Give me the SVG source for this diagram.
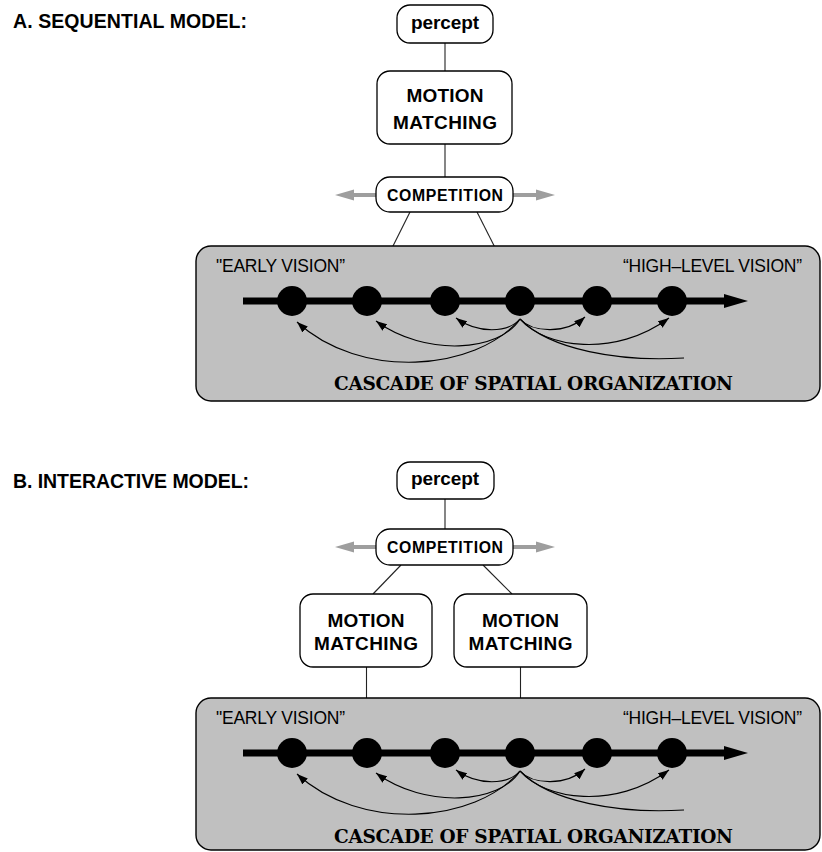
<svg xmlns="http://www.w3.org/2000/svg" width="822" height="852" viewBox="0 0 822 852">
<defs>
<style>
.title{font-family:"Liberation Sans",Arial,sans-serif;font-weight:bold;font-size:19.5px;fill:#000}
.box{fill:#fff;stroke:#000;stroke-width:1.3}
.lbl{font-family:"Liberation Sans",Arial,sans-serif;font-weight:bold;fill:#000;text-anchor:middle}
.big{font-size:19px}
.comp{font-size:15.8px}
.panel{fill:#c0c0c0;stroke:#000;stroke-width:1.4}
.vis{font-family:"Liberation Sans",Arial,sans-serif;font-size:17.5px;fill:#000}
.casc{font-family:"DejaVu Serif","Liberation Serif",serif;font-weight:bold;font-size:18.5px;fill:#000}
.conn{stroke:#222;stroke-width:1.1;fill:none}
.curve{stroke:#000;stroke-width:1.1;fill:none}
.garrow{fill:#9e9e9e}
.node{fill:#000}
.axis{stroke:#000;stroke-width:7}
</style>
<marker id="ah" markerUnits="userSpaceOnUse" markerWidth="12" markerHeight="8" refX="11" refY="4" orient="auto">
<path d="M0,0 L11,4 L0,8 z" fill="#000"/>
</marker>
</defs>

<!-- ===== Panel A ===== -->
<text class="title" x="13" y="28" textLength="234">A. SEQUENTIAL MODEL:</text>

<g id="connectorsA">
<line class="conn" x1="445" y1="43" x2="445" y2="71"/>
<line class="conn" x1="445" y1="144" x2="445" y2="177"/>
<line class="conn" x1="410" y1="212" x2="373" y2="286"/>
<line class="conn" x1="477" y1="212" x2="515" y2="287"/>
</g>

<g id="perceptA">
<rect class="box" x="397" y="5" width="96" height="38" rx="13"/>
<text class="lbl big" x="445" y="29" textLength="68">percept</text>
</g>

<g id="motionA">
<rect class="box" x="377" y="71" width="135" height="73" rx="13"/>
<text class="lbl big" x="445" y="102" textLength="77">MOTION</text>
<text class="lbl big" x="445" y="129" textLength="104">MATCHING</text>
</g>

<g id="competitionA">
<path class="garrow" d="M335,195 L354,189.5 L354,193 L376,193 L376,197 L354,197 L354,200.5 Z"/>
<path class="garrow" d="M555,195 L536,189.5 L536,193 L513,193 L513,197 L536,197 L536,200.5 Z"/>
<rect class="box" x="376" y="177" width="137" height="35" rx="14"/>
<text class="lbl comp" x="445" y="201" textLength="116">COMPETITION</text>
</g>

<g id="cascadeA">
<rect class="panel" x="196" y="246" width="624" height="155" rx="15"/>
<text class="vis" x="216" y="272" textLength="129">"EARLY VISION”</text>
<text class="vis" x="623" y="272" textLength="179">“HIGH–LEVEL VISION”</text>
<line class="axis" x1="243" y1="301" x2="728" y2="301"/>
<polygon points="724,294 748,301 724,308" fill="#000"/>
<circle class="node" cx="292" cy="301" r="15"/>
<circle class="node" cx="367" cy="301" r="15"/>
<circle class="node" cx="445" cy="301" r="15"/>
<circle class="node" cx="520" cy="301" r="15"/>
<circle class="node" cx="597" cy="301" r="15"/>
<circle class="node" cx="672" cy="301" r="15"/>
<g id="feedbackA">
<path class="curve" marker-end="url(#ah)" d="M520,319 C508,333 478,334 456,318"/>
<path class="curve" marker-end="url(#ah)" d="M520,319 C533,333 566,334 585,317"/>
<path class="curve" marker-end="url(#ah)" d="M520,319 C500,352 425,357 376,321"/>
<path class="curve" marker-end="url(#ah)" d="M520,319 C475,372 360,380 297,322"/>
<path class="curve" marker-end="url(#ah)" d="M520,319 C545,348 615,358 669,318"/>
<path class="curve" d="M520,319 C550,350 620,362 684,358"/>
</g>
<text class="casc" x="334" y="390" textLength="399">CASCADE OF SPATIAL ORGANIZATION</text>
</g>

<!-- ===== Panel B ===== -->
<text class="title" x="13" y="488" textLength="236">B. INTERACTIVE MODEL:</text>

<g id="connectorsB">
<line class="conn" x1="445" y1="499" x2="445" y2="529"/>
<line class="conn" x1="401" y1="565" x2="373" y2="594"/>
<line class="conn" x1="483" y1="565" x2="512" y2="594"/>
<line class="conn" x1="366.5" y1="667" x2="366.5" y2="739"/>
<line class="conn" x1="520.5" y1="667" x2="520.5" y2="739"/>
</g>

<g id="perceptB">
<rect class="box" x="397" y="462" width="97" height="37" rx="13"/>
<text class="lbl big" x="445" y="485" textLength="68">percept</text>
</g>

<g id="competitionB">
<path class="garrow" d="M335,547 L354,541.5 L354,545 L376,545 L376,549 L354,549 L354,552.5 Z"/>
<path class="garrow" d="M555,547 L536,541.5 L536,545 L513,545 L513,549 L536,549 L536,552.5 Z"/>
<rect class="box" x="376" y="529" width="137" height="36" rx="14"/>
<text class="lbl comp" x="445" y="553" textLength="116">COMPETITION</text>
</g>

<g id="motionB1">
<rect class="box" x="300" y="594" width="132" height="73" rx="13"/>
<text class="lbl big" x="366" y="627" textLength="77">MOTION</text>
<text class="lbl big" x="366" y="650" textLength="104">MATCHING</text>
</g>

<g id="motionB2">
<rect class="box" x="454" y="594" width="133" height="73" rx="13"/>
<text class="lbl big" x="520.5" y="627" textLength="77">MOTION</text>
<text class="lbl big" x="520.5" y="650" textLength="104">MATCHING</text>
</g>

<g id="cascadeB">
<rect class="panel" x="196" y="698" width="624" height="152" rx="15"/>
<text class="vis" x="216" y="724" textLength="129">"EARLY VISION”</text>
<text class="vis" x="623" y="724" textLength="179">“HIGH–LEVEL VISION”</text>
<line class="axis" x1="243" y1="753" x2="728" y2="753"/>
<polygon points="724,746 748,753 724,760" fill="#000"/>
<circle class="node" cx="292" cy="753" r="15"/>
<circle class="node" cx="367" cy="753" r="15"/>
<circle class="node" cx="445" cy="753" r="15"/>
<circle class="node" cx="520" cy="753" r="15"/>
<circle class="node" cx="597" cy="753" r="15"/>
<circle class="node" cx="672" cy="753" r="15"/>
<g id="feedbackB" transform="translate(0,452)">
<path class="curve" marker-end="url(#ah)" d="M520,319 C508,333 478,334 456,318"/>
<path class="curve" marker-end="url(#ah)" d="M520,319 C533,333 566,334 585,317"/>
<path class="curve" marker-end="url(#ah)" d="M520,319 C500,352 425,357 376,321"/>
<path class="curve" marker-end="url(#ah)" d="M520,319 C475,372 360,380 297,322"/>
<path class="curve" marker-end="url(#ah)" d="M520,319 C545,348 615,358 669,318"/>
<path class="curve" d="M520,319 C550,350 620,362 684,358"/>
</g>
<text class="casc" x="334" y="843" textLength="399">CASCADE OF SPATIAL ORGANIZATION</text>
</g>
</svg>
